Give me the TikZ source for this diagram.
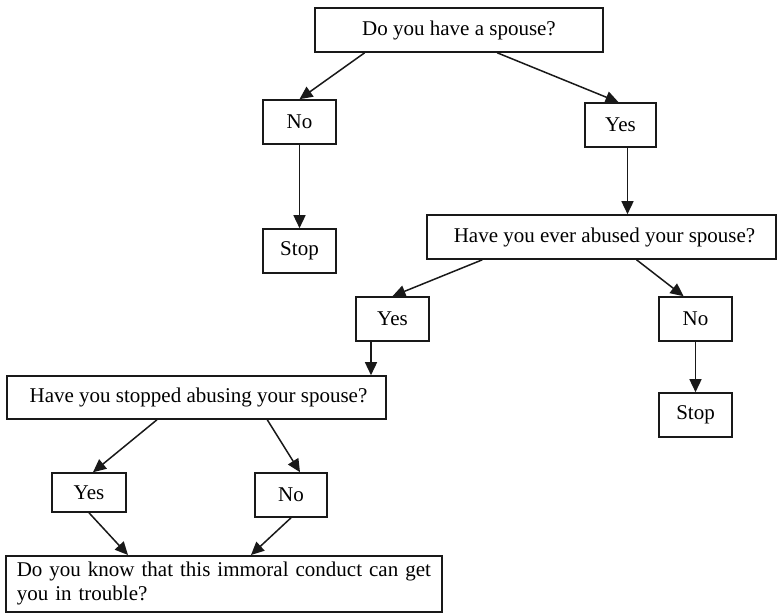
\documentclass[tikz,border=0pt]{standalone}
\usepackage{fontspec}
\setmainfont{Liberation Serif}
\usetikzlibrary{arrows.meta,calc}
\tikzset{
  box/.style={draw=black!90, line width=1.6pt, inner sep=0pt, font=\fontsize{21}{24}\selectfont},
  arr/.style={draw=black!90, line width=1.5pt, -{Triangle[length=13pt,width=12pt]}}
}
\begin{document}
\begin{tikzpicture}[x=1pt,y=-1pt]
\useasboundingbox (0,0) rectangle (778,613);
% nodes
\node[box, minimum width=288pt, minimum height=44pt] (q1) at (459,30) {Do you have a spouse?};
\node[box, minimum width=73pt, minimum height=44pt] (no1) at (299.5,122) {No};
\node[box, minimum width=71pt, minimum height=44pt] (yes1) at (620.5,125) {Yes};
\node[box, minimum width=73pt, minimum height=44pt] (stop1) at (299.5,251) {Stop};
\node[box, minimum width=349pt, minimum height=44pt] (q2) at (601.5,237) {\hspace{6pt}Have you ever abused your spouse?};
\node[box, minimum width=73pt, minimum height=44pt] (yes2) at (392.5,319) {Yes};
\node[box, minimum width=73pt, minimum height=44pt] (no2) at (695.5,319) {No};
\node[box, minimum width=73pt, minimum height=44pt] (stop2) at (695.5,415) {Stop};
\node[box, minimum width=379pt, minimum height=43pt] (q3) at (196.5,397.5) {\hspace{4pt}Have you stopped abusing your spouse?};
\node[box, minimum width=74pt, minimum height=39pt] (yes3) at (89,492.5) {Yes};
\node[box, minimum width=72pt, minimum height=44pt] (no3) at (291,495) {No};
\node[box, anchor=north west, text width=414pt, inner xsep=11pt, minimum height=56pt, align=left] (q4) at (5,555)
  {\mbox{Do you know that this immoral conduct can get}\\you in trouble?};
% connectors
\draw[arr] ($(q1.south west)!0.174!(q1.south east)$) -- (no1.north);
\draw[arr] ($(q1.south west)!0.632!(q1.south east)$) -- ($(yes1.north)+(-2,0)$);
\draw[arr] (no1.south) -- (stop1.north);
\draw[arr] ($(yes1.south)+(7,0)$) -- ($(q2.north)+(26,0)$);
\draw[arr] ($(q2.south west)!0.16!(q2.south east)$) -- (yes2.north);
\draw[arr] ($(q2.south west)!0.60!(q2.south east)$) -- ($(no2.north)+(-12,0)$);
\draw[arr] ($(yes2.south)+(-21.5,0)$) -- ($(q3.north)+(174.5,0)$);
\draw[arr] (no2.south) -- (stop2.north);
\draw[arr] ($(q3.south west)!0.396!(q3.south east)$) -- ($(yes3.north)+(4,0)$);
\draw[arr] ($(q3.south west)!0.686!(q3.south east)$) -- ($(no3.north)+(9,0)$);
\draw[arr] (yes3.south) -- ($(q4.north west)+(123,0)$);
\draw[arr] (no3.south) -- ($(q4.north west)+(246,0)$);
\end{tikzpicture}
\end{document}
